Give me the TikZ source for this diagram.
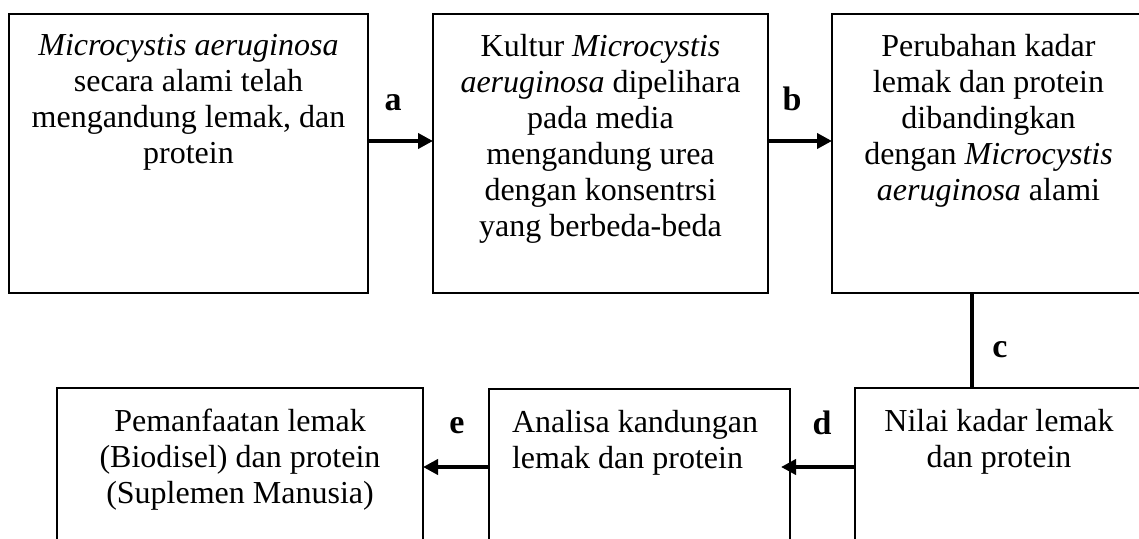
\documentclass[tikz,border=0pt]{standalone}
\usepackage{fontspec}
\setmainfont{Liberation Serif}
\usetikzlibrary{arrows.meta}

\tikzset{
  stagebox/.style={draw=black, line width=2.5pt, inner sep=0pt, outer sep=0pt,
                   anchor=north west},
  boxtext/.style={inner sep=0pt, outer sep=0pt, align=center, anchor=north,
                  font=\fontsize{32}{36}\selectfont},
  steplabel/.style={inner sep=0pt, anchor=base, font=\fontsize{34}{36}\selectfont\bfseries},
  flow/.style={line width=4pt, -{Triangle[length=15pt,width=15pt]}},
  link/.style={line width=4pt}
}

\begin{document}
\begin{tikzpicture}[x=1pt, y=-1pt]
  \useasboundingbox (0,0) rectangle (1139,538);
  \clip (0,0) rectangle (1139,538);

  % upper row of stages
  \node[stagebox, minimum width=359pt, minimum height=279pt] (b1) at (9,14) {};
  \node[stagebox, minimum width=335pt, minimum height=279pt] (b2) at (433,14) {};
  \node[stagebox, minimum width=313pt, minimum height=279pt] (b3) at (832,14) {};

  % lower row of stages (open at the bottom)
  \node[stagebox, minimum width=288pt, minimum height=158pt] (b4) at (855,388) {};
  \node[stagebox, minimum width=301pt, minimum height=156pt] (b5) at (489,389) {};
  \node[stagebox, minimum width=366pt, minimum height=158pt] (b6) at (57,388) {};

  % stage texts
  \node[boxtext] (t1) at ([yshift=-20pt]b1.north)
    {\textit{Microcystis aeruginosa}\\ secara alami telah\\ mengandung lemak, dan\\ protein};
  \node[boxtext] (t2) at ([yshift=-20pt]b2.north)
    {Kultur \textit{Microcystis}\\ \textit{aeruginosa} dipelihara\\ pada media\\ mengandung urea\\ dengan konsentrsi\\ yang berbeda-beda};
  \node[boxtext] (t3) at ([yshift=-20pt]b3.north)
    {Perubahan kadar\\ lemak dan protein\\ dibandingkan\\ dengan \textit{Microcystis}\\ \textit{aeruginosa} alami};
  \node[boxtext] (t4) at ([yshift=-21pt]b4.north)
    {Nilai kadar lemak\\ dan protein};
  \node[boxtext, align=left, anchor=north west] (t5) at ([xshift=23pt,yshift=-21pt]b5.north west)
    {Analisa kandungan\\ lemak dan protein};
  \node[boxtext] (t6) at ([yshift=-21pt]b6.north)
    {Pemanfaatan lemak\\ (Biodisel) dan protein\\ (Suplemen Manusia)};

  % connectors
  \draw[flow] ([yshift=12.5pt]b1.east) -- ([yshift=12.5pt]b2.west);
  \draw[flow] ([yshift=12.5pt]b2.east) -- ([yshift=12.5pt]b3.west);
  \coordinate (cx) at (972,0);
  \draw[link] (b3.south -| cx) -- (b4.north -| cx);
  \draw[flow] (b4.west) -- ([xshift=-9pt]b5.east);
  \draw[flow] (b5.west) -- (b6.east);

  % step letters
  \node[steplabel] (la) at (393,110) {a};
  \node[steplabel] (lb) at (792,110) {b};
  \node[steplabel] (lc) at (1000,357) {c};
  \node[steplabel] (ld) at (822,434) {d};
  \node[steplabel] (le) at (457,433) {e};
\end{tikzpicture}
\end{document}
